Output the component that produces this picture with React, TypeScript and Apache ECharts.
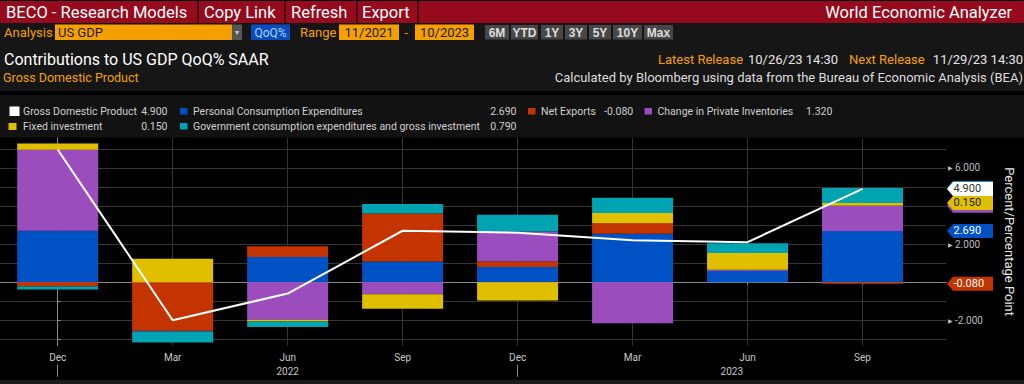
import React, { useEffect, useRef } from "react";
import * as echarts from "echarts";

// ---------- data ----------
const quarterLabels = ["Dec", "Mar", "Jun", "Sep", "Dec", "Mar", "Jun", "Sep"];
const yearLabels = ["2022", "2023"];
const gdp = [6.96, -2.0, -0.6, 2.7, 2.6, 2.2, 2.1, 4.9];
const pce = [2.7, 0.0, 1.32, 1.08, 0.79, 2.54, 0.58, 2.69];
const netExports = [-0.23, -2.55, 0.56, 2.53, 0.29, 0.56, 0.0, -0.08];
const inventories = [4.26, -0.05, -1.98, -0.63, 1.58, -2.16, 0.07, 1.32];
const fixedInvestment = [0.32, 1.23, -0.09, -0.77, -0.97, 0.53, 0.88, 0.15];
const government = [-0.16, -0.57, -0.29, 0.49, 0.88, 0.81, 0.51, 0.79];
const yGridValues = [-3, -2, -1, 0, 1, 2, 3, 4, 5, 6, 7];
const yLabelValues = [-2, 2, 6];

// ---------- styles ----------
const FONT = "Roboto, 'Liberation Sans', sans-serif";
const X_MIN = -0.502;
const X_MAX = 7.726;
const Y_MIN = -3.34;
const Y_MAX = 7.6;

const components = [
  { name: "Personal Consumption Expenditures", data: pce, color: "#0052c4", text: "#ffffff", tagText: true },
  { name: "Net Exports", data: netExports, color: "#c43400", text: "#ffffff", tagText: true },
  { name: "Change in Private Inventories", data: inventories, color: "#9b4dbe", text: "#ffffff", tagText: false },
  { name: "Fixed investment", data: fixedInvestment, color: "#dfbf00", text: "#222222", tagText: true },
  { name: "Government consumption expenditures and gross investment", data: government, color: "#00a3b2", text: "#ffffff", tagText: false },
];

const T = (x: number, y: number, text: string, size: number, fill: string, align = "left", extra: any = {}) => ({
  type: "text",
  x,
  y,
  silent: true,
  z: 20,
  style: {
    text,
    fill,
    font: `${size}px ${FONT}`,
    textAlign: align,
    textVerticalAlign: "middle",
    ...extra,
  },
});
const R = (x: number, y: number, w: number, h: number, fill: string, z = 10) => ({
  type: "rect",
  silent: true,
  z,
  shape: { x, y, width: w, height: h },
  style: { fill },
});

function headerGraphics() {
  const g: any[] = [];
  // bands
  g.push(R(0, 0, 1024, 23, "#960a1e", 5));
  g.push(R(0, 0, 1024, 1, "#000000", 6));
  g.push(R(0, 23, 1024, 68, "#161616", 5));
  g.push(R(0, 95, 1024, 42.5, "#121212", 5));
  g.push(R(0, 380, 1024, 4, "#1a1a1a", 5));
  // tab separators
  [197, 284, 356, 417].forEach((x) => g.push(R(x, 1, 2, 22, "#4a0010", 6)));
  g.push(T(6, 12, "BECO - Research Models", 16.5, "#ffffff"));
  g.push(T(204, 12, "Copy Link", 16.5, "#ffffff"));
  g.push(T(291, 12, "Refresh", 16.5, "#ffffff"));
  g.push(T(362, 12, "Export", 16.5, "#ffffff"));
  g.push(T(1012, 12, "World Economic Analyzer", 16.5, "#ffffff", "right"));

  // row 2
  const orange = "#f5a000";
  g.push(T(4, 32.5, "Analysis", 13, orange));
  g.push(R(55, 24.5, 177, 15.5, orange));
  g.push(T(58, 32.5, "US GDP", 13, "#1a1a1a"));
  g.push(R(232, 24.5, 10, 15.5, "#555555"));
  g.push(T(237, 32.5, "▾", 8, "#cccccc", "center"));
  g.push(R(251, 24.5, 39, 15.5, "#0a4cc0"));
  g.push(T(270.5, 32.5, "QoQ%", 12, "#a9d2ff", "center"));
  g.push(T(300, 32.5, "Range", 13, orange));
  g.push(R(339, 24.5, 60, 15.5, orange));
  g.push(T(369, 32.5, "11/2021", 13, "#1a1a1a", "center"));
  g.push(T(406, 32.5, "-", 13, orange, "center"));
  g.push(R(415, 24.5, 59, 15.5, orange));
  g.push(T(444.5, 32.5, "10/2023", 13, "#1a1a1a", "center"));
  const buttons: [string, number, number][] = [
    ["6M", 485, 24],
    ["YTD", 511, 27],
    ["1Y", 541, 22],
    ["3Y", 565, 22],
    ["5Y", 589, 22],
    ["10Y", 613, 29],
    ["Max", 644, 29],
  ];
  buttons.forEach(([t, x, w]) => {
    g.push(R(x, 25, w, 14.5, "#474747"));
    g.push(T(x + w / 2, 32.5, t, 11, "#dddddd", "center", { fontWeight: "bold" }));
  });

  // title block
  g.push(T(4, 59.5, "Contributions to US GDP QoQ% SAAR", 16, "#ffffff"));
  g.push(T(3, 77.5, "Gross Domestic Product", 12.5, orange));
  g.push(T(658, 59.5, "Latest Release", 13, orange));
  g.push(T(748, 59.5, "10/26/23 14:30", 13, "#e6e6e6"));
  g.push(T(849, 59.5, "Next Release", 13, orange));
  g.push(T(1023, 59.5, "11/29/23 14:30", 13, "#e6e6e6", "right"));
  g.push(
    T(1023, 77.5, "Calculated by Bloomberg using data from the Bureau of Economic Analysis (BEA)", 13, "#dddddd", "right")
  );

  // legend
  const last = gdp.length - 1;
  const lc = "#cfcfcf";
  const fs = 10.5;
  const r1 = 111;
  const r2 = 126.5;
  g.push(R(9.5, 106.5, 10, 9.5, "#ffffff", 20));
  g.push(T(23, r1, "Gross Domestic Product", fs, lc));
  g.push(T(167.5, r1, gdp[last].toFixed(3), fs, lc, "right"));
  g.push(R(180, 108, 7.5, 6.5, components[0].color, 20));
  g.push(T(193, r1, components[0].name, fs, lc));
  g.push(T(516.5, r1, components[0].data[last].toFixed(3), fs, lc, "right"));
  g.push(R(528, 108, 7.5, 6.5, components[1].color, 20));
  g.push(T(541, r1, components[1].name, fs, lc));
  g.push(T(604, r1, components[1].data[last].toFixed(3), fs, lc));
  g.push(R(644.5, 108, 7.5, 6.5, components[2].color, 20));
  g.push(T(657.5, r1, components[2].name, fs, lc));
  g.push(T(806, r1, components[2].data[last].toFixed(3), fs, lc));
  g.push(R(8.5, 123, 8, 7, components[3].color, 20));
  g.push(T(23, r2, components[3].name, fs, lc));
  g.push(T(167.5, r2, components[3].data[last].toFixed(3), fs, lc, "right"));
  g.push(R(180, 123, 7.5, 6.5, components[4].color, 20));
  g.push(T(193, r2, components[4].name, fs, lc));
  g.push(T(516.5, r2, components[4].data[last].toFixed(3), fs, lc, "right"));
  return g;
}

// stacked cumulative top of each component at a given index (same-sign stacking)
function stackedTops(idx: number) {
  let pos = 0;
  let neg = 0;
  return components.map((c) => {
    const v = c.data[idx];
    if (v >= 0) {
      pos += v;
      return pos;
    }
    neg += v;
    return neg;
  });
}

const xTickValues = quarterLabels.map((_, i) => i);
const yearDividers = quarterLabels.map((q, i) => (q === "Dec" ? i : -1)).filter((i) => i >= 0);
const yearCenters = yearDividers.map((d, k) => (d + (k + 1 < yearDividers.length ? yearDividers[k + 1] : X_MAX)) / 2);

export default function App() {
  const ref = useRef<HTMLDivElement>(null);
  useEffect(() => {
    if (!ref.current) return;
    const chart = echarts.init(ref.current, undefined, { renderer: "svg" });
    const axisGray = "#8c8c8c";
    const gridGray = "#363636";
    const option: any = {
      animation: false,
      backgroundColor: "#000000",
      textStyle: { fontFamily: FONT },
      grid: { left: 0, right: 69, top: 137.5, bottom: 38.3, containLabel: false },
      xAxis: [
        {
          type: "value",
          min: X_MIN,
          max: X_MAX,
          axisLine: { show: true, lineStyle: { color: axisGray } },
          axisTick: { show: true, customValues: xTickValues, length: 3, lineStyle: { color: axisGray } },
          axisLabel: {
            customValues: xTickValues,
            formatter: (v: number) => quarterLabels[Math.round(v)] ?? "",
            color: "#c8c8c8",
            fontSize: 10,
            margin: 7,
            fontFamily: FONT,
          },
          splitLine: { show: true, lineStyle: { color: gridGray } },
        },
        {
          type: "value",
          min: X_MIN,
          max: X_MAX,
          position: "bottom",
          offset: 19,
          axisLine: { show: false },
          axisTick: { show: true, customValues: yearDividers, length: 12, lineStyle: { color: axisGray } },
          axisLabel: {
            customValues: yearCenters,
            formatter: (v: number) => {
              let best = 0;
              yearCenters.forEach((c, k) => {
                if (Math.abs(c - v) < Math.abs(yearCenters[best] - v)) best = k;
              });
              return yearLabels[best];
            },
            color: "#c8c8c8",
            fontSize: 10,
            margin: 2,
            fontFamily: FONT,
          },
          splitLine: { show: false },
        },
      ],
      yAxis: {
        type: "value",
        position: "right",
        min: Y_MIN,
        max: Y_MAX,
        axisLine: { show: true, lineStyle: { color: axisGray } },
        axisTick: { show: true, customValues: yGridValues, length: 3, lineStyle: { color: axisGray } },
        axisLabel: {
          customValues: yLabelValues,
          margin: 2,
          formatter: (v: number) => `{a|▶}{b|${v.toFixed(3)}}`,
          rich: {
            a: { fontSize: 6, color: "#bdbdbd", padding: [0, 2, 0, 0] },
            b: { fontSize: 10, color: "#bdbdbd", fontFamily: FONT },
          },
        },
        splitLine: { show: true, lineStyle: { color: gridGray } },
        name: "Percent/Percentage Point",
        nameLocation: "middle",
        nameRotate: -90,
        nameGap: 57,
        nameTextStyle: { color: "#e6e6e6", fontSize: 13, fontFamily: FONT },
      },
      series: [
        ...components.map((c) => ({
          type: "bar",
          name: c.name,
          stack: "total",
          barWidth: 81,
          silent: true,
          itemStyle: { color: c.color },
          // value first so the stack is computed on the value (y) dimension
          encode: { x: 1, y: 0 },
          data: c.data.map((v, i) => [v, i]),
        })),
        {
          type: "line",
          name: "Gross Domestic Product",
          data: gdp.map((v, i) => [i, v]),
          symbol: "none",
          silent: true,
          z: 10,
          lineStyle: { color: "#ffffff", width: 2 },
          markLine: {
            silent: true,
            symbol: "none",
            label: { show: false },
            lineStyle: { color: "#8a8a8a", width: 1, type: "solid" },
            data: [{ yAxis: 0 }],
            z: 1,
          },
        },
      ],
    };
    chart.setOption(option);

    // value tags on the right axis, placed through the axis scale
    const last = gdp.length - 1;
    const ax = chart.convertToPixel({ xAxisIndex: 0 }, X_MAX) as number;
    const tops = stackedTops(last);
    const tag = (val: number, label: string | null, fill: string, txt: string, z: number) => {
      const y = chart.convertToPixel({ yAxisIndex: 0 }, val) as number;
      const h = 7;
      const els: any[] = [
        {
          type: "polygon",
          silent: true,
          z,
          shape: {
            points: [
              [ax + 1, y],
              [ax + 7, y - h],
              [ax + 47, y - h],
              [ax + 47, y + h],
              [ax + 7, y + h],
            ],
          },
          style: { fill },
        },
      ];
      if (label)
        els.push({
          type: "text",
          silent: true,
          z: z + 0.5,
          x: ax + 7.5,
          y,
          style: { text: label, fill: txt, font: `11px ${FONT}`, textVerticalAlign: "middle" },
        });
      return els;
    };
    const order = [4, 2, 3, 0, 1];
    const tags: any[] = [];
    order.forEach((ci, k) => {
      const c = components[ci];
      tags.push(...tag(tops[ci], c.tagText ? c.data[last].toFixed(3) : null, c.color, c.text, 30 + k));
    });
    tags.push(...tag(gdp[last], gdp[last].toFixed(3), "#ffffff", "#333333", 40));

    chart.setOption({ graphic: [...headerGraphics(), ...tags] });
    return () => chart.dispose();
  }, []);
  return <div ref={ref} style={{ position: "fixed", left: 0, top: 0, width: 1024, height: 384, background: "#000" }} />;
}
